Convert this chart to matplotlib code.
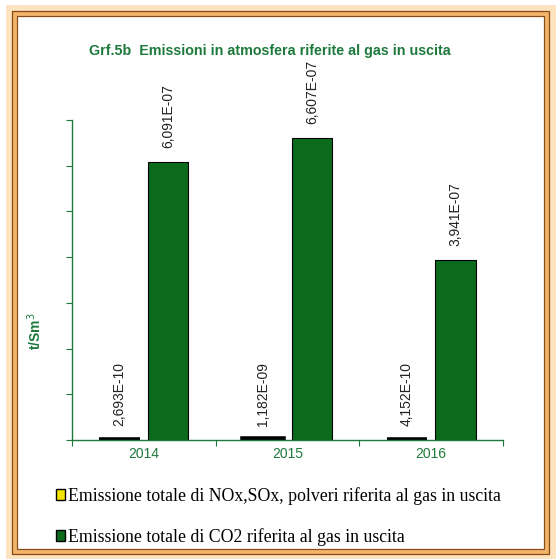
import matplotlib
matplotlib.use('Agg')
import matplotlib.pyplot as plt
from matplotlib.patches import Rectangle, Patch
import numpy as np

# dati
anni = ['2014', '2015', '2016']
nox_sox = [2.693e-10, 1.182e-09, 4.152e-10]
co2 = [6.091e-07, 6.607e-07, 3.941e-07]
serie = ['Emissione totale di NOx,SOx, polveri riferita al gas in uscita',
         'Emissione totale di CO2 riferita al gas in uscita']

verde_scuro = '#0b6a1c'
verde_testo = '#1e7a3c'
giallo = '#f5e400'

fig = plt.figure(figsize=(5.56, 5.59), dpi=100)
fig.patch.set_facecolor('white')

# cornice
W, H = 556, 559
def rect(x0, y0, x1, y1, **kw):
    fig.patches.append(Rectangle((x0 / W, 1 - y1 / H), (x1 - x0) / W, (y1 - y0) / H,
                                 transform=fig.transFigure, fill=False, **kw))
rect(9, 8, 552, 557, edgecolor='#fde3c0', lw=5)
rect(14, 13, 547, 552, edgecolor='#f2b46a', lw=3.5)
rect(12, 11, 549, 554, edgecolor='#8a4a14', lw=0.9)
rect(17, 16, 544, 549, edgecolor='#8a4a14', lw=0.9)

ax = fig.add_axes([72 / W, 1 - 440 / H, (503 - 72) / W, (440 - 120) / H])
ax.set_facecolor('none')

x = np.arange(len(anni))
w = 0.28
b1 = ax.bar(x - 0.17, nox_sox, w, color=giallo, edgecolor='black', linewidth=4)
b2 = ax.bar(x + 0.17, co2, w, color=verde_scuro, edgecolor='black', linewidth=0.8)

fmt = lambda v: f'{v:.3E}'.replace('.', ',')
for bars, vals in [(b1, nox_sox), (b2, co2)]:
    ax.bar_label(bars, labels=[fmt(v) for v in vals], padding=10, rotation=90,
                 fontsize=10, color='#222222', family=['Liberation Sans', 'DejaVu Sans'])

ax.set_xlim(-0.5, 2.5)
ax.set_ylim(0, 7e-7)
ax.set_yticks(np.arange(0, 7.01e-7, 1e-7))
ax.set_yticklabels([])
ax.set_xticks([-0.5, 0.5, 1.5, 2.5])
ax.set_xticklabels([])
ax.set_xticks(x, minor=True)
ax.set_xticklabels(anni, minor=True, fontsize=10, color=verde_testo,
                   family=['Liberation Sans', 'DejaVu Sans'])
ax.tick_params(axis='x', which='minor', length=0, pad=5)
ax.tick_params(axis='both', which='major', length=4, width=0.8, color=verde_testo)
for s in ['top', 'right']:
    ax.spines[s].set_visible(False)
for s in ['left', 'bottom']:
    ax.spines[s].set_color(verde_testo)
    ax.spines[s].set_linewidth(1.0)

ax.set_ylabel('t/Sm$^3$', color=verde_testo, fontsize=10, fontweight='bold',
              family=['Liberation Sans', 'DejaVu Sans'])
ax.yaxis.set_label_coords(-0.065, 0.34)

fig.text(270 / W, 1 - 51 / H, 'Grf.5b  Emissioni in atmosfera riferite al gas in uscita',
         ha='center', va='center', fontsize=10.3, fontweight='bold', color=verde_testo,
         family=['Liberation Sans Narrow', 'Liberation Sans', 'DejaVu Sans'])

handles = [Patch(facecolor=giallo, edgecolor='black', lw=1),
           Patch(facecolor=verde_scuro, edgecolor='black', lw=1)]
fig.legend(handles, serie, loc='upper left', bbox_to_anchor=(40 / W, 1 - 471 / H),
           frameon=False, handlelength=0.5, handleheight=0.5, handletextpad=0.15,
           labelspacing=1.3, prop={'family': ['Liberation Serif', 'DejaVu Serif'], 'size': 12.8})

plt.savefig('out.png', dpi=100)
